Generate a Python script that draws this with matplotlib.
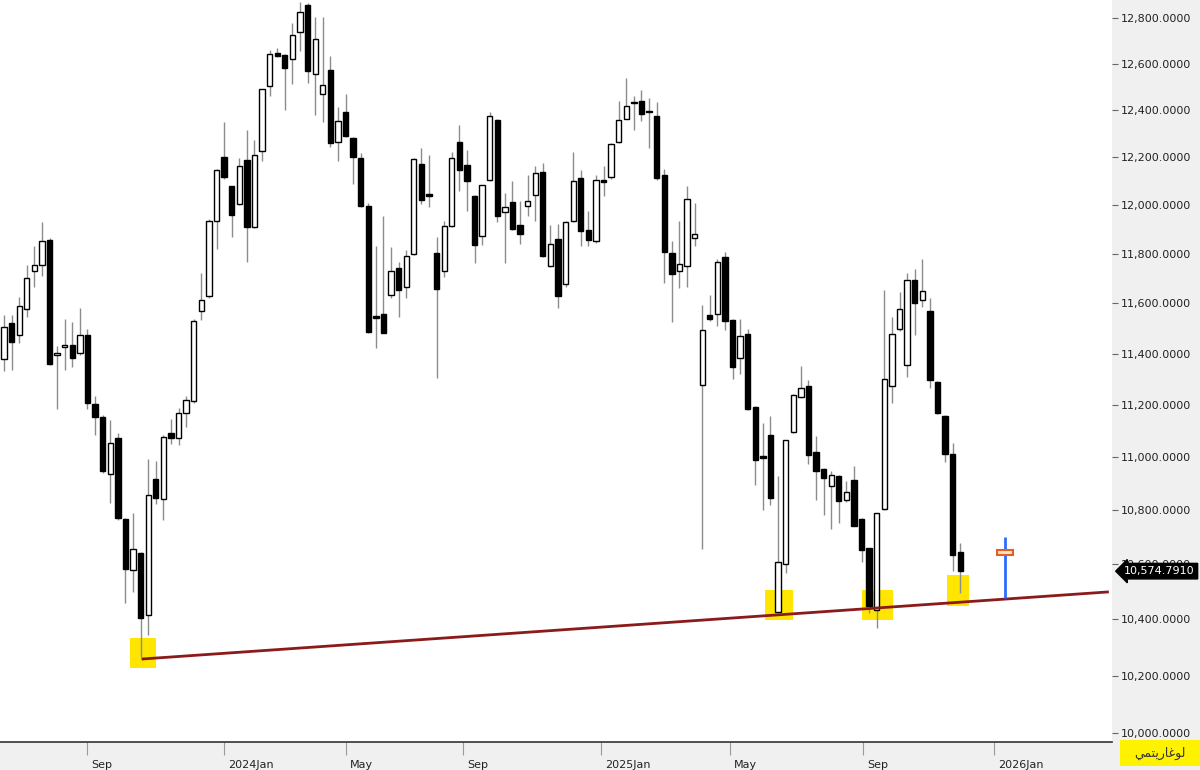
import matplotlib.pyplot as plt
import matplotlib.transforms as mtransforms
from matplotlib.patches import Rectangle
from matplotlib.ticker import NullLocator
import numpy as np

# weekly candles (TASI)
opens = [11378, 11521, 11475, 11575, 11728, 11753, 11857, 11393, 11425, 11433,
         11404, 11475, 11204, 11152, 10934, 11074, 10766, 10578, 10640, 10415,
         10916, 10840, 11092, 11074, 11170, 11215, 11567, 11630, 11935, 12200,
         12077, 12004, 12187, 11910, 12226, 12502, 12645, 12637, 12620, 12739,
         12860, 12555, 12467, 12573, 12264, 12391, 12281, 12196, 11996, 11548,
         11558, 11634, 11741, 11664, 11800, 12170, 12046, 11804, 11728, 11914,
         12264, 12166, 12038, 11873, 12102, 12357, 11971, 12013, 11918, 11996,
         12043, 12136, 11749, 11861, 11677, 11935, 12111, 11897, 11852, 12102,
         12115, 12264, 12362, 12430, 12440, 12395, 12374, 12124, 11804, 11728,
         11749, 11865, 11278, 11554, 11558, 11787, 11533, 11381, 11479, 11193,
         11004, 11085, 10425, 10600, 11096, 11230, 11271, 11018, 10956, 10891,
         10927, 10836, 10913, 10766, 10658, 10433, 10804, 11271, 11496, 11356,
         11694, 11613, 11567, 11289, 11156, 11011, 10644]
highs = [11554, 11554, 11625, 11753, 11830, 11931, 11865, 11428, 11537, 11525,
         11580, 11496, 11233, 11160, 11141, 11092, 10770, 10788, 10645, 10993,
         10985, 11085, 11145, 11189, 11233, 11538, 11720, 11940, 12150, 12350,
         12080, 12196, 12315, 12272, 12490, 12661, 12670, 12640, 12780, 12870,
         12865, 12805, 12805, 12633, 12413, 12470, 12285, 12217, 12010, 11833,
         11955, 11826, 11766, 11813, 12195, 12238, 12208, 11869, 11935, 12221,
         12336, 12230, 12040, 12085, 12391, 12360, 12051, 12098, 12017, 12124,
         12162, 12174, 11918, 11922, 11935, 12221, 12145, 11975, 12124, 12162,
         12260, 12438, 12538, 12458, 12484, 12453, 12433, 12149, 11852, 11935,
         12077, 12009, 11592, 11634, 11779, 11808, 11535, 11537, 11496, 11195,
         11130, 11156, 10927, 11065, 11240, 11352, 11297, 11081, 10960, 10945,
         10930, 10909, 10967, 10770, 10660, 10790, 11652, 11546, 11643, 11720,
         11736, 11779, 11622, 11292, 11160, 11055, 10677]
lows = [11330, 11337, 11442, 11546, 11664, 11711, 11355, 11185, 11337, 11348,
        11393, 11185, 11085, 10940, 10825, 10765, 10458, 10498, 10265, 10345,
        10822, 10762, 11048, 11044, 11115, 11208, 11534, 11620, 11820, 12110,
        11869, 12000, 11766, 11905, 12183, 12458, 12630, 12400, 12511, 12657,
        12515, 12379, 12349, 12243, 12183, 12285, 12089, 11990, 11480, 11421,
        11480, 11621, 11546, 11621, 11795, 12004, 11992, 11305, 11706, 11910,
        12060, 11975, 11762, 11837, 12100, 11930, 11762, 11895, 11841, 11955,
        11935, 11785, 11745, 11580, 11664, 11930, 11833, 11833, 11845, 12038,
        12110, 12260, 12360, 12315, 12353, 12238, 12105, 11681, 11525, 11660,
        11664, 11833, 10655, 11530, 11508, 11491, 11301, 11319, 11180, 10894,
        10800, 10818, 10420, 10567, 11092, 11225, 10975, 10836, 10780, 10730,
        10752, 10830, 10740, 10607, 10422, 10368, 10800, 11208, 11490, 11308,
        11475, 11583, 11264, 11165, 10982, 10575, 10495]
closes = [11504, 11446, 11588, 11702, 11753, 11851, 11359, 11404, 11433, 11382,
          11475, 11207, 11152, 10945, 11055, 10769, 10582, 10655, 10405, 10858,
          10844, 11078, 11074, 11170, 11219, 11530, 11613, 11935, 12145, 12115,
          11959, 12162, 11910, 12208, 12489, 12641, 12633, 12582, 12727, 12825,
          12570, 12706, 12507, 12259, 12353, 12290, 12200, 11996, 11487, 11542,
          11483, 11728, 11651, 11791, 12191, 12021, 12038, 11655, 11914, 12196,
          12145, 12098, 11837, 12081, 12374, 11955, 11992, 11902, 11881, 12017,
          12132, 11791, 11841, 11630, 11931, 12098, 11893, 11856, 12102, 12094,
          12255, 12357, 12418, 12436, 12383, 12390, 12111, 11808, 11719, 11757,
          12026, 11881, 11491, 11537, 11766, 11529, 11348, 11471, 11182, 10989,
          10996, 10844, 10607, 11063, 11238, 11264, 11007, 10945, 10920, 10931,
          10833, 10869, 10742, 10651, 10447, 10788, 11300, 11479, 11575, 11694,
          11600, 11647, 11296, 11170, 11011, 10633, 10574.791]

last_price = 10574.791
y_ticks = list(range(10000, 12801, 200))
x_tick_pos = [11, 29, 45, 60.5, 78.6, 95.6, 113.2, 130.4]
x_tick_labels = ['Sep', '2024Jan', 'May', 'Sep', '2025Jan', 'May', 'Sep', '2026Jan']

# support line and highlighted touches
trend_x = [18.3, 145.4]
trend_y = [10259, 10499]
boxes = [(16.6, 20.0, 10227, 10333), (100.3, 103.9, 10398, 10506),
         (113.1, 117.2, 10398, 10506), (124.2, 127.1, 10448, 10561)]
# projection marker
proj_x = 131.9
proj_lo, proj_hi = 10477, 10700
proj_box = (10634, 10652)

opens = np.array(opens)
closes = np.array(closes)
x = np.arange(len(opens))
up = closes >= opens

fig = plt.figure(figsize=(12, 7.7), dpi=100)
fig.patch.set_facecolor('#f0f0f0')
ax = fig.add_axes([0, 1 - 742 / 770, 1112 / 1200, 742 / 770])
ax.set_facecolor('white')
ax.set_yscale('log')

for b in boxes:
    ax.add_patch(Rectangle((b[0], b[2]), b[1] - b[0], b[3] - b[2],
                           facecolor='#ffe500', edgecolor='none', zorder=1))

ax.vlines(x, lows, highs, color='#8c8c8c', lw=1, zorder=2)
ax.bar(x, closes - opens, bottom=opens, width=0.7,
       color=np.where(up, 'white', 'black'), edgecolor='black', lw=1, zorder=3)

ax.plot(trend_x, trend_y, color='#8b1a1a', lw=2, zorder=4)

ax.vlines(proj_x, proj_lo, proj_hi, color='#2f6bff', lw=2, zorder=4)
ax.add_patch(Rectangle((proj_x - 1.0, proj_box[0]), 2.0, proj_box[1] - proj_box[0],
                       facecolor='#fde2cc', edgecolor='#e4601e', lw=1.5, zorder=5))

ax.set_xlim(-0.53, 146.0)
ax.set_ylim(9969, 12880)

ax.yaxis.tick_right()
ax.yaxis.set_minor_locator(NullLocator())
ax.set_yticks(y_ticks)
ax.set_yticklabels([f'{v:,.4f}' for v in y_ticks])
ax.tick_params(axis='y', direction='out', length=4, width=0.8, color='#666666',
               labelsize=8, labelcolor='#222222', pad=2)

ax.set_xticks(x_tick_pos)
ax.set_xticklabels(x_tick_labels)
ax.tick_params(axis='x', direction='out', length=9, width=0.8, color='#999999',
               labelsize=8, labelcolor='#222222', pad=4)
offset = mtransforms.ScaledTranslation(3 / 72, 0, fig.dpi_scale_trans)
for lbl in ax.get_xticklabels():
    lbl.set_horizontalalignment('left')
    lbl.set_transform(lbl.get_transform() + offset)

for s in ['top', 'left', 'right']:
    ax.spines[s].set_visible(False)
ax.spines['bottom'].set_color('#333333')
ax.spines['bottom'].set_linewidth(1.2)

# last price tag
trans = mtransforms.blended_transform_factory(ax.transAxes, ax.transData)
ax.text(1.011, last_price, f'{last_price:,.4f}', transform=trans, ha='left', va='center',
        color='white', fontsize=8, clip_on=False, zorder=10,
        bbox=dict(boxstyle='larrow,pad=0.25', fc='black', ec='black'))

# log-scale badge (Arabic, pre-shaped glyphs in visual order)
fig.patches.append(Rectangle((1120 / 1200, 1 - 766 / 770), 80 / 1200, 26 / 770,
                             transform=fig.transFigure, facecolor='#fff200',
                             edgecolor='none'))
fig.text(1160 / 1200, 1 - 753 / 770, '\ufef2\ufee4\ufe98\ufef3\ufead\ufe8e\ufecf\ufeee\ufedf',
         ha='center', va='center', fontsize=9, color='#333333')

plt.savefig('out.png', dpi=100, facecolor=fig.get_facecolor())
